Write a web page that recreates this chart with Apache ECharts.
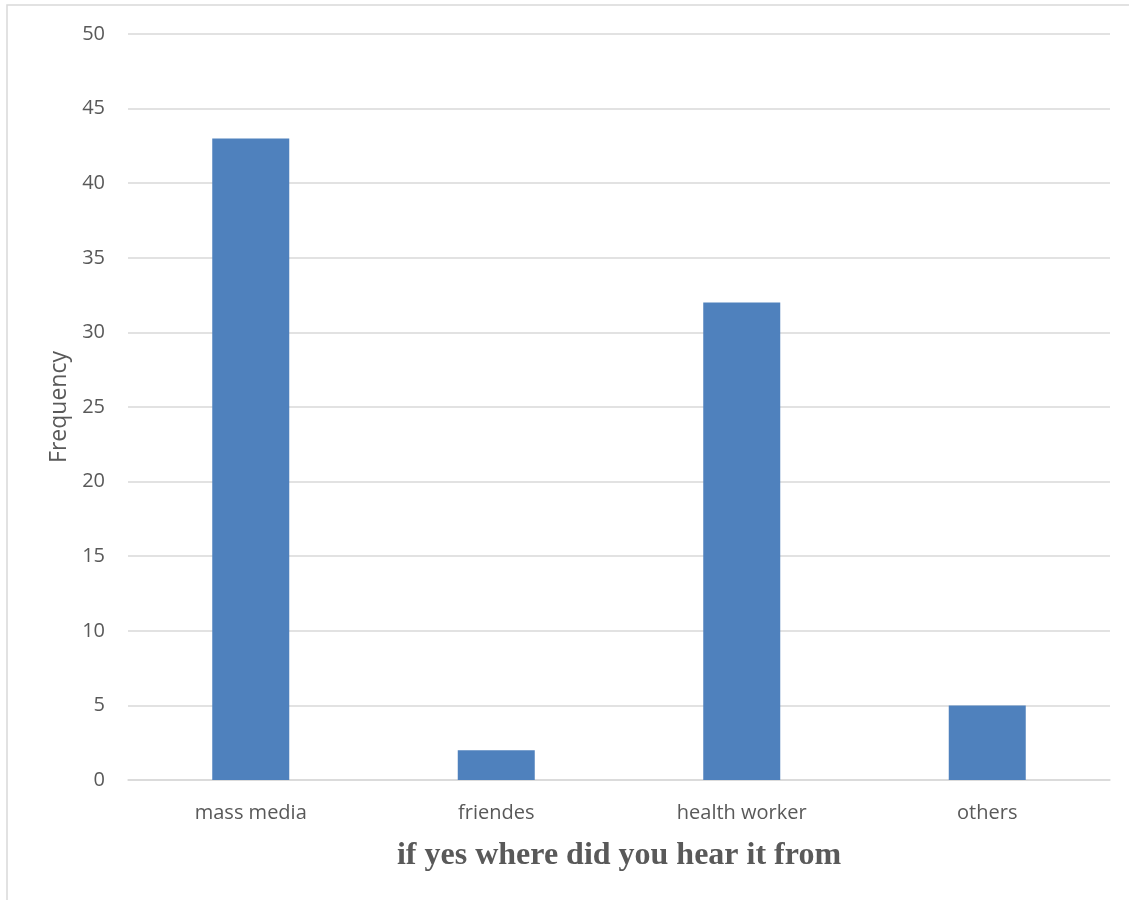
<!DOCTYPE html>
<html>
<head>
<meta charset="utf-8">
<title>if yes where did you hear it from</title>
<script src="https://cdn.jsdelivr.net/npm/echarts@6/dist/echarts.min.js"></script>
<style>
  html, body { margin: 0; padding: 0; background: #fff; }
  #chart { width: 1129px; height: 900px; }
</style>
</head>
<body>
<div id="chart"></div>
<script>
// data
const categories = ['mass media', 'friendes', 'health worker', 'others'];
const frequency = [43, 2, 32, 5];
const yTicks = [0, 5, 10, 15, 20, 25, 30, 35, 40, 45, 50];

const chart = echarts.init(document.getElementById('chart'), null, { renderer: 'canvas' });

const labelFont = '"Open Sans", "Noto Sans", sans-serif';

const option = {
  backgroundColor: '#ffffff',
  animation: false,
  graphic: [{
    // chart area frame (only top and left edges are visible)
    type: 'rect',
    shape: { x: 7, y: 5, width: 1140, height: 920 },
    style: { fill: 'none', stroke: '#d9d9d9', lineWidth: 1.5 },
    silent: true
  }],
  grid: { left: 128, right: 19, top: 34, bottom: 120 },
  xAxis: {
    type: 'category',
    data: categories,
    name: 'if yes where did you hear it from',
    nameLocation: 'middle',
    nameGap: 60,
    nameTextStyle: {
      fontFamily: '"Liberation Serif", "DejaVu Serif", serif',
      fontWeight: 'bold',
      fontSize: 32,
      color: '#595959'
    },
    axisLine: { show: true, lineStyle: { color: '#d9d9d9', width: 1.5 } },
    axisTick: { show: false },
    axisLabel: { fontFamily: labelFont, fontSize: 20, color: '#595959', margin: 23 }
  },
  yAxis: {
    type: 'value',
    min: yTicks[0],
    max: yTicks[yTicks.length - 1],
    interval: 5,
    name: 'Frequency',
    nameLocation: 'middle',
    nameGap: 57,
    nameTextStyle: { fontFamily: labelFont, fontSize: 23, color: '#595959' },
    axisLine: { show: false },
    axisTick: { show: false },
    axisLabel: { fontFamily: labelFont, fontSize: 20, color: '#595959', margin: 23 },
    splitLine: { lineStyle: { color: '#d9d9d9', width: 1.5 } }
  },
  series: [{
    type: 'bar',
    data: frequency,
    barWidth: 77,
    itemStyle: { color: '#4f81bd' }
  }]
};

chart.setOption(option);
</script>
</body>
</html>
